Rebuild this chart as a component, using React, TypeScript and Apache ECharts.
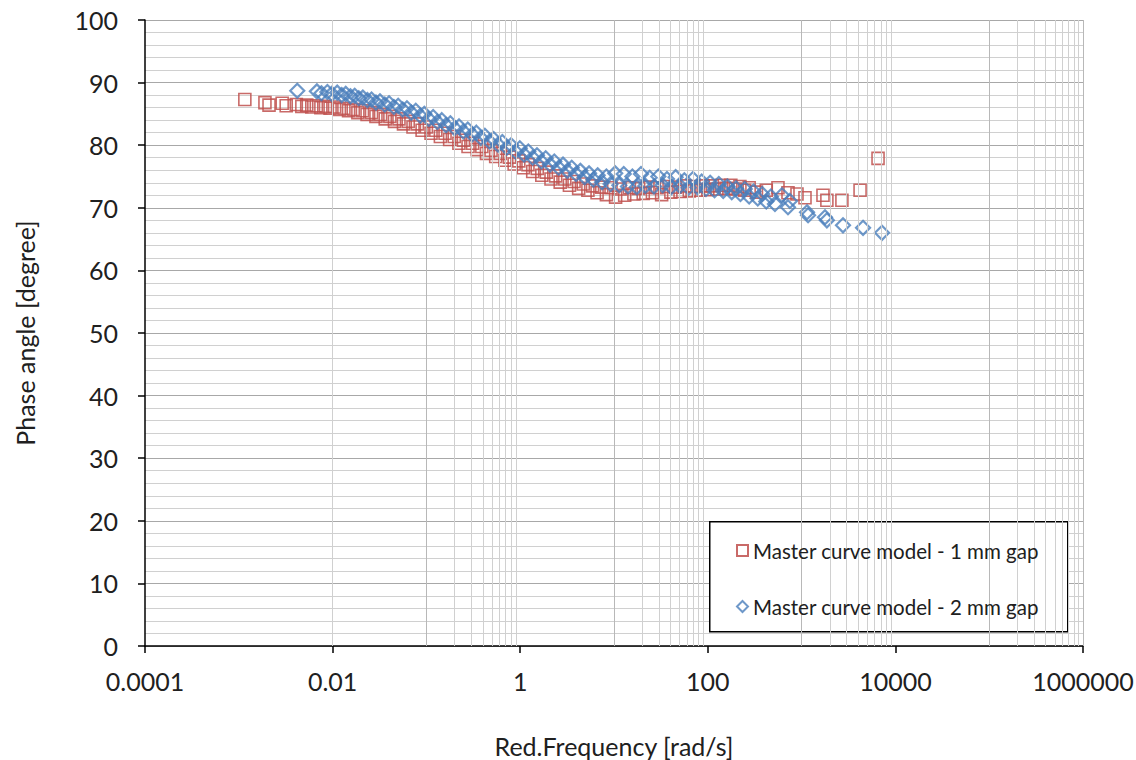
import React, { useEffect, useRef } from "react";
import * as echarts from "echarts";

const seriesNames = ["Master curve model - 1 mm gap", "Master curve model - 2 mm gap"];

// [reduced frequency (rad/s), phase angle (degree)]
const gap1Points: number[][] = [
  [0.00116, 87.3], [0.0019, 86.8], [0.0021, 86.4], [0.0029, 86.7], [0.0032, 86.3],
  [0.0041, 86.5], [0.0047, 86.2], [0.0053, 86.4], [0.006, 86.1], [0.0067, 86.3],
  [0.0075, 86.0], [0.0084, 86.2], [0.0094, 85.9], [0.0105, 86.1], [0.0118, 85.7],
  [0.0132, 85.9], [0.0148, 85.5], [0.0166, 85.7], [0.0186, 85.2], [0.0208, 85.5],
  [0.0233, 84.9], [0.026, 85.2], [0.029, 84.6], [0.0325, 84.9], [0.0364, 84.2],
  [0.0408, 84.6], [0.0457, 83.8], [0.051, 84.2], [0.057, 83.4], [0.064, 83.8],
  [0.072, 82.9], [0.08, 83.4], [0.09, 82.4], [0.1, 82.9], [0.112, 81.9],
  [0.126, 82.4], [0.141, 81.4], [0.158, 81.9], [0.177, 80.9], [0.198, 81.4],
  [0.222, 80.3], [0.248, 80.8], [0.278, 79.8], [0.311, 80.3], [0.348, 79.3],
  [0.39, 79.8], [0.437, 78.7], [0.489, 79.2], [0.548, 78.2], [0.614, 78.7],
  [0.688, 77.6], [0.77, 78.1], [0.862, 77.0], [0.966, 77.5], [1.08, 76.4],
  [1.21, 76.9], [1.36, 75.8], [1.52, 76.3], [1.7, 75.2], [1.9, 75.7],
  [2.13, 74.6], [2.39, 75.1], [2.67, 74.1], [2.99, 74.6], [3.35, 73.6],
  [3.75, 74.2], [4.2, 73.1], [4.7, 73.8], [5.27, 72.8], [5.9, 73.5],
  [6.6, 72.4], [7.4, 73.3], [8.3, 72.1], [9.3, 73.2], [10.4, 71.7],
  [11.6, 73.0], [13, 72.0], [14.6, 73.2], [16.3, 72.2], [18.3, 73.1],
  [20.5, 72.3], [23, 73.3], [25.7, 72.4], [28.8, 73.2], [32.2, 72.1],
  [36.1, 73.4], [40.4, 72.5], [45.2, 73.3], [50.6, 72.6], [56.7, 73.5],
  [63.5, 72.7], [71.1, 73.4], [79.6, 72.8], [89.1, 73.5], [100, 72.9],
  [112, 73.5], [125, 73.0], [140, 73.6], [157, 73.1], [176, 73.6],
  [197, 73.0], [220, 73.4], [247, 72.8], [276, 73.2], [330, 72.5],
  [420, 72.8], [560, 73.2], [716, 72.4], [893, 72.2], [1087, 71.6],
  [1690, 72.0], [1860, 71.2], [2690, 71.2], [4200, 72.8], [6530, 77.9],
];

const gap2Points: number[][] = [
  [0.0042, 88.7], [0.0068, 88.6], [0.0076, 88.3], [0.0088, 88.5], [0.0098, 88.2],
  [0.0112, 88.4], [0.0125, 88.0], [0.0138, 88.2], [0.0155, 87.8], [0.0172, 87.9],
  [0.019, 87.5], [0.021, 87.6], [0.0235, 87.2], [0.026, 87.3], [0.029, 86.8],
  [0.032, 87.0], [0.036, 86.5], [0.04, 86.7], [0.045, 86.1], [0.05, 86.3],
  [0.056, 85.7], [0.062, 85.9], [0.069, 85.2], [0.077, 85.5], [0.086, 84.7],
  [0.095, 85.0], [0.106, 84.2], [0.118, 84.5], [0.131, 83.7], [0.146, 84.0],
  [0.162, 83.2], [0.18, 83.5], [0.2, 82.7], [0.223, 83.0], [0.248, 82.2],
  [0.276, 82.5], [0.307, 81.7], [0.341, 82.0], [0.38, 81.2], [0.42, 81.5],
  [0.47, 80.6], [0.52, 81.0], [0.58, 80.1], [0.645, 80.5], [0.72, 79.6],
  [0.8, 80.0], [0.89, 79.0], [0.99, 79.5], [1.1, 78.5], [1.22, 79.0],
  [1.36, 78.0], [1.51, 78.4], [1.68, 77.4], [1.87, 77.9], [2.08, 76.9],
  [2.31, 77.4], [2.57, 76.4], [2.86, 76.9], [3.18, 75.9], [3.54, 76.4],
  [3.94, 75.4], [4.38, 75.9], [4.87, 74.9], [5.42, 75.5], [6.03, 74.5],
  [6.7, 75.2], [7.46, 74.1], [8.3, 75.0], [9.2, 73.8], [10.3, 75.5],
  [11.4, 73.6], [12.7, 75.4], [14.1, 73.4], [15.7, 75.0], [17.5, 73.3],
  [19.4, 75.4], [21.6, 73.5], [24.0, 74.8], [26.7, 73.4], [29.7, 75.0],
  [33.0, 73.6], [36.7, 74.6], [40.8, 73.3], [45.4, 74.9], [50.5, 73.5],
  [56.2, 74.4], [62.5, 73.2], [69.5, 74.6], [77.3, 73.3], [86, 74.2],
  [95.6, 73.0], [106, 74.0], [118, 72.8], [131, 73.8], [146, 72.7],
  [162, 73.4], [180, 72.5], [200, 73.1], [223, 72.2], [248, 73.0],
  [276, 71.8], [307, 72.6], [341, 71.5], [380, 72.2], [420, 71.0],
  [470, 71.8], [520, 70.6], [618, 72.0], [716, 70.1], [751, 71.1],
  [1143, 69.3], [1172, 68.8], [1776, 68.5], [1860, 68.0], [2763, 67.2],
  [4520, 66.8], [7200, 66.0],
];

const xTickLabels = ["0.0001", "0.01", "1", "100", "10000", "1000000"];
const xMin = 0.0001;
const xMax = 1000000;
const yMin = 0;
const yMax = 100;
const yStep = 10;

// Excel-style minor gridlines for a base-100 log axis: 10·k, k = 1..9 times each major
const minorDecadeExponents = [-3, -1, 1, 3, 5];
const minorMultipliers = [1, 2, 3, 4, 5, 6, 7, 8, 9];

const FONT = "Lato, 'Open Sans', sans-serif";
const TEXT = "#202020";

export default function App() {
  const ref = useRef<HTMLDivElement>(null);

  useEffect(() => {
    document.body.style.margin = "0";
    if (!ref.current) return;
    const chart = echarts.init(ref.current, undefined, { renderer: "svg" });

    const minorLines: any[] = [];
    minorDecadeExponents.forEach((e) => {
      minorMultipliers.forEach((m) => {
        minorLines.push({
          xAxis: m * Math.pow(10, e),
          lineStyle: { color: m === 1 ? "#b8b8b8" : "#d0d0d0", width: 1, type: "solid" },
        });
      });
    });
    minorLines.push({ xAxis: xMax, lineStyle: { color: "#b8b8b8", width: 1, type: "solid" } });

    chart.setOption({
      animation: false,
      backgroundColor: "#ffffff",
      textStyle: { fontFamily: FONT },
      grid: {
        left: 145,
        right: 53,
        top: 20,
        bottom: 114,
        containLabel: false,
        outerBoundsMode: "none",
      },
      legend: {
        data: seriesNames,
        orient: "vertical",
        left: 736,
        top: 540,
        itemWidth: 11,
        itemHeight: 11,
        itemGap: 35,
        padding: 0,
        textStyle: { fontFamily: FONT, fontSize: 20.5, color: TEXT },
        z: 10,
      },
      graphic: [
        {
          type: "rect",
          left: 709,
          top: 521,
          z: 5,
          shape: { width: 358, height: 110 },
          style: { fill: "#ffffff", stroke: "#000000", lineWidth: 1.5 },
        },
      ],
      xAxis: {
        type: "log",
        logBase: 100,
        min: xMin,
        max: xMax,
        splitNumber: 5,
        name: "Red.Frequency [rad/s]",
        nameLocation: "middle",
        nameGap: 87,
        nameTextStyle: { fontFamily: FONT, fontSize: 25, color: TEXT },
        axisLine: { show: true, onZero: false, lineStyle: { color: "#000000", width: 1.5 } },
        axisTick: { show: true, inside: false, length: 7, lineStyle: { color: "#000000", width: 1.5 } },
        axisLabel: {
          show: true,
          margin: 22,
          fontFamily: FONT,
          fontSize: 25,
          color: TEXT,
          formatter: (v: number) => {
            const idx = Math.round(Math.log10(v) / 2) + 2;
            return xTickLabels[idx] ?? String(v);
          },
        },
        splitLine: { show: false },
        minorTick: { show: false },
        minorSplitLine: { show: false },
      },
      yAxis: {
        type: "value",
        min: yMin,
        max: yMax,
        interval: yStep,
        name: "Phase angle [degree]",
        nameLocation: "middle",
        nameRotate: 90,
        nameGap: 108,
        nameTextStyle: { fontFamily: FONT, fontSize: 25, color: TEXT },
        axisLine: { show: true, lineStyle: { color: "#000000", width: 1.5 } },
        axisTick: { show: true, inside: false, length: 7, lineStyle: { color: "#000000", width: 1.5 } },
        axisLabel: {
          show: true,
          margin: 27,
          fontFamily: FONT,
          fontSize: 25,
          color: TEXT,
        },
        splitLine: { show: true, lineStyle: { color: "#a8a8a8", width: 1 } },
        minorTick: { show: false, splitNumber: 5 },
        minorSplitLine: { show: true, lineStyle: { color: "#d0d0d0", width: 1 } },
      },
      series: [
        {
          name: "minor-grid",
          type: "line",
          data: [],
          z: 1,
          silent: true,
          markLine: {
            silent: true,
            symbol: ["none", "none"],
            label: { show: false },
            animation: false,
            data: minorLines,
          },
        },
        {
          name: seriesNames[0],
          type: "scatter",
          data: gap1Points,
          symbol: "rect",
          symbolSize: 12,
          z: 2,
          itemStyle: {
            color: "rgba(255,255,255,0)",
            borderColor: "#c0504d",
            borderWidth: 1.6,
            opacity: 0.85,
          },
        },
        {
          name: seriesNames[1],
          type: "scatter",
          data: gap2Points,
          symbol: "diamond",
          symbolSize: 14,
          z: 3,
          itemStyle: {
            color: "rgba(255,255,255,0)",
            borderColor: "#4a7ebb",
            borderWidth: 2.2,
          },
        },
      ],
    });

    return () => chart.dispose();
  }, []);

  return <div ref={ref} style={{ width: 1136, height: 760 }} />;
}
